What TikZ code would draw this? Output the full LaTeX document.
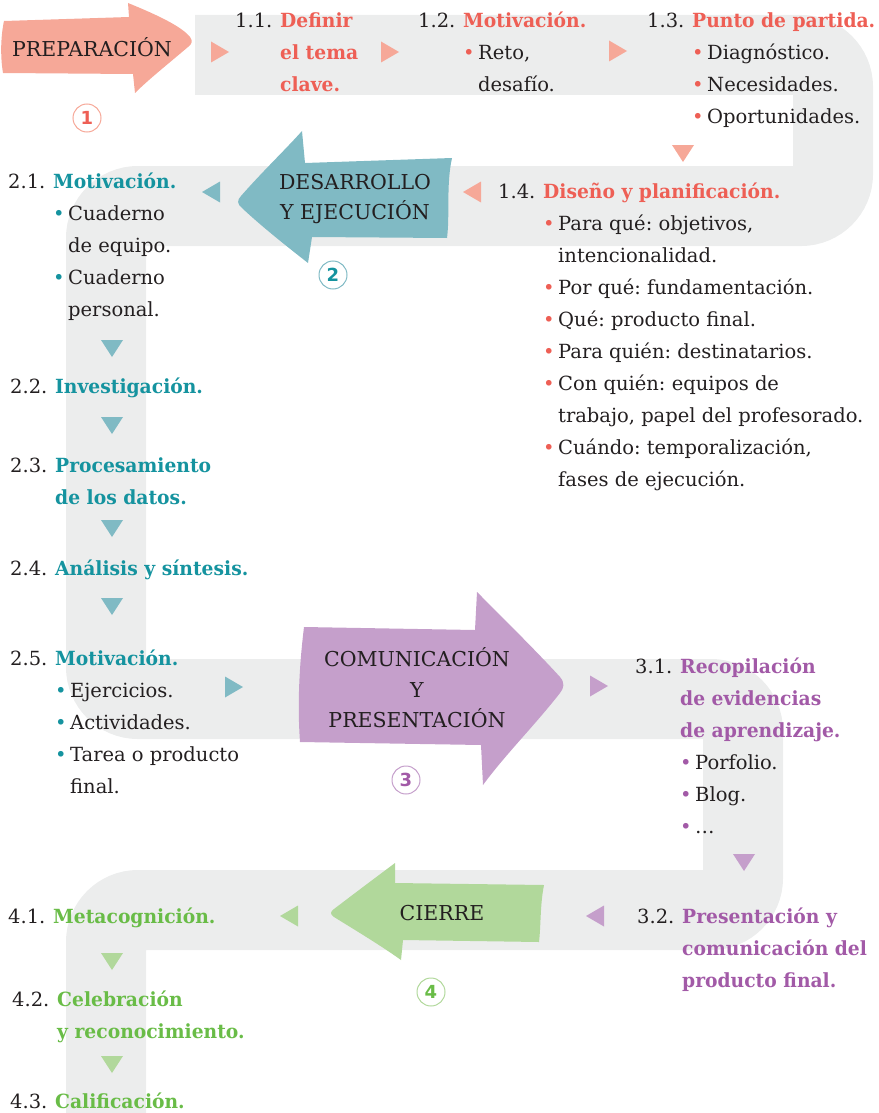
\documentclass[tikz,border=0pt]{standalone}
\usepackage{fontspec}
\setmainfont{DejaVu Serif}
\newfontfamily\headfont[FakeStretch=0.96]{DejaVu Serif}
\newfontfamily\numfont{DejaVu Sans}
\frenchspacing

\definecolor{bandgray}{HTML}{ECEDED}
\definecolor{ink}{HTML}{231F20}
\definecolor{salmon}{HTML}{F6A898}
\definecolor{coral}{HTML}{EE5F55}
\definecolor{tealL}{HTML}{80BAC4}
\definecolor{tealD}{HTML}{15939F}
\definecolor{purpL}{HTML}{C59FCB}
\definecolor{purpD}{HTML}{A25AA7}
\definecolor{greenL}{HTML}{B1D89B}
\definecolor{greenD}{HTML}{69BC47}

% number, heading, bullet line, continuation line
\newcommand{\nm}[1]{\makebox[45pt][l]{\textcolor{ink}{#1}}}
\newcommand{\hd}[1]{{\headfont\bfseries #1}}
\newcommand{\bl}[1]{\makebox[15pt][l]{•}\textcolor{ink}{#1}}
\newcommand{\ct}[1]{\hspace{15pt}\textcolor{ink}{#1}}
\newcommand{\itemlist}[1]{\begin{tabular}[t]{@{}l@{}l@{}}#1\end{tabular}}

\tikzset{
  band/.style={draw=bandgray, line width=80pt, rounded corners=32pt},
  item/.style={anchor=base west, inner sep=0pt, font=\fontsize{19.5}{32}\selectfont},
  stagelabel/.style={align=center, inner sep=0pt, text=ink, font=\fontsize{20.5}{30.5}\selectfont},
  badge/.style={circle, draw, line width=1pt, minimum size=28pt, inner sep=0pt,
    font=\numfont\bfseries\fontsize{18}{18}\selectfont},
  tri right/.pic={\fill (-8,-10.5) -- (10,0) -- (-8,10.5) -- cycle;},
  tri left/.pic={\fill (8,-10.5) -- (-10,0) -- (8,10.5) -- cycle;},
  tri down/.pic={\fill (-11,-8) -- (11,-8) -- (0,9) -- cycle;}
}

\begin{document}
\begin{tikzpicture}[x=1pt, y=-1pt]
  \useasboundingbox (0,0) rectangle (878,1113);

  % grey path
  \draw[band] (195,55) -- (833,55) -- (833,206) -- (106,206) -- (106,699)
    -- (743,699) -- (743,910) -- (106,910) -- (106,1150);

  % stage arrows
  \fill[salmon] (4,21) -- (129,17) -- (128,3) .. controls (160,16) and (182,27) .. (190,37)
    .. controls (193,41) and (192,44) .. (188,47) .. controls (168,64) and (148,80) .. (135,93)
    -- (133,74) -- (3,73) .. controls (0,55) and (1,35) .. (4,21) -- cycle;
  \fill[tealL] (305,163) -- (452,158) .. controls (446,185) and (450,215) .. (447,238)
    -- (312,237) -- (308,263) .. controls (285,245) and (260,225) .. (242,208)
    .. controls (237,204) and (237,200) .. (241,196) .. controls (262,172) and (285,150) .. (302,131)
    -- cycle;
  \fill[purpL] (304,627) -- (475,630) -- (477,592) .. controls (510,625) and (540,655) .. (560,677)
    .. controls (565,683) and (564,688) .. (560,693) .. controls (535,725) and (505,755) .. (483,785)
    -- (481,745) -- (300,742) .. controls (297,700) and (300,660) .. (304,627) -- cycle;
  \fill[greenL] (395,883) -- (544,885) .. controls (540,905) and (541,925) .. (539,942)
    -- (403,940) -- (401,960) .. controls (380,945) and (355,930) .. (334,917)
    .. controls (330,914) and (330,912) .. (334,909) .. controls (355,893) and (375,878) .. (395,863)
    -- cycle;

  \node[stagelabel] (prep) at (92,47) {PREPARACIÓN};
  \node[stagelabel] (desa) at (355,199) {DESARROLLO\\Y EJECUCIÓN};
  \node[stagelabel] (comu) at (417,688) {COMUNICACIÓN\\Y\\PRESENTACIÓN};
  \node[stagelabel] (cier) at (442,913) {CIERRE};

  \node[badge, draw=salmon, text=coral] (n1) at (87,118) {1};
  \node[badge, draw=tealL, text=tealD] (n2) at (333,275) {2};
  \node[badge, draw=purpL, text=purpD] (n3) at (406,780) {3};
  \node[badge, draw=greenL, text=greenD] (n4) at (431,992) {4};

  % markers
  \pic[color=salmon] (t1) at (219,52) {tri right};
  \pic[color=salmon] (t2) at (389,52) {tri right};
  \pic[color=salmon] (t3) at (617,51) {tri right};
  \pic[color=salmon] (t4) at (683,153) {tri down};
  \pic[color=salmon] (t5) at (473,192) {tri left};
  \pic[color=tealL] (t6) at (212,192) {tri left};
  \pic[color=tealL] (t7) at (112,348) {tri down};
  \pic[color=tealL] (t8) at (112,425) {tri down};
  \pic[color=tealL] (t9) at (112,528) {tri down};
  \pic[color=tealL] (t10) at (112,606) {tri down};
  \pic[color=tealL] (t11) at (233,687) {tri right};
  \pic[color=purpL] (t12) at (598,686) {tri right};
  \pic[color=purpL] (t13) at (744,862) {tri down};
  \pic[color=purpL] (t14) at (596,916) {tri left};
  \pic[color=greenL] (t15) at (290,916) {tri left};
  \pic[color=greenL] (t16) at (112,961) {tri down};
  \pic[color=greenL] (t17) at (112,1064) {tri down};

  % stage 1
  \node[item, text=coral] (s11) at (235,28) {\itemlist{\nm{1.1.} & \hd{Definir}\\ & \hd{el tema}\\ & \hd{clave.}}};
  \node[item, text=coral] (s12) at (418,28) {\itemlist{\nm{1.2.} & \hd{Motivación.}\\ & \bl{Reto,}\\ & \ct{desafío.}}};
  \node[item, text=coral] (s13) at (647,28) {\itemlist{\nm{1.3.} & \hd{Punto de partida.}\\
    & \bl{Diagnóstico.}\\ & \bl{Necesidades.}\\ & \bl{Oportunidades.}}};
  \node[item, text=coral] (s14) at (498,198) {\itemlist{\nm{1.4.} & \hd{Diseño y planificación.}\\
    & \bl{Para qué: objetivos,}\\ & \ct{intencionalidad.}\\
    & \bl{Por qué: fundamentación.}\\ & \bl{Qué: producto final.}\\
    & \bl{Para quién: destinatarios.}\\ & \bl{Con quién: equipos de}\\
    & \ct{trabajo, papel del profesorado.}\\ & \bl{Cuándo: temporalización,}\\
    & \ct{fases de ejecución.}}};

  % stage 2
  \node[item, text=tealD] (s21) at (8,188) {\itemlist{\nm{2.1.} & \hd{Motivación.}\\
    & \bl{Cuaderno}\\ & \ct{de equipo.}\\ & \bl{Cuaderno}\\ & \ct{personal.}}};
  \node[item, text=tealD] (s22) at (10,393) {\itemlist{\nm{2.2.} & \hd{Investigación.}}};
  \node[item, text=tealD] (s23) at (10,472) {\itemlist{\nm{2.3.} & \hd{Procesamiento}\\ & \hd{de los datos.}}};
  \node[item, text=tealD] (s24) at (10,575) {\itemlist{\nm{2.4.} & \hd{Análisis y síntesis.}}};
  \node[item, text=tealD] (s25) at (10,665) {\itemlist{\nm{2.5.} & \hd{Motivación.}\\
    & \bl{Ejercicios.}\\ & \bl{Actividades.}\\ & \bl{Tarea o producto}\\ & \ct{final.}}};

  % stage 3
  \node[item, text=purpD] (s31) at (635,673) {\itemlist{\nm{3.1.} & \hd{Recopilación}\\
    & \hd{de evidencias}\\ & \hd{de aprendizaje.}\\ & \bl{Porfolio.}\\ & \bl{Blog.}\\ & \bl{…}}};
  \node[item, text=purpD] (s32) at (637,923) {\itemlist{\nm{3.2.} & \hd{Presentación y}\\
    & \hd{comunicación del}\\ & \hd{producto final.}}};

  % stage 4
  \node[item, text=greenD] (s41) at (8,923) {\itemlist{\nm{4.1.} & \hd{Metacognición.}}};
  \node[item, text=greenD] (s42) at (12,1006) {\itemlist{\nm{4.2.} & \hd{Celebración}\\ & \hd{y reconocimiento.}}};
  \node[item, text=greenD] (s43) at (10,1108) {\itemlist{\nm{4.3.} & \hd{Calificación.}}};
\end{tikzpicture}
\end{document}
